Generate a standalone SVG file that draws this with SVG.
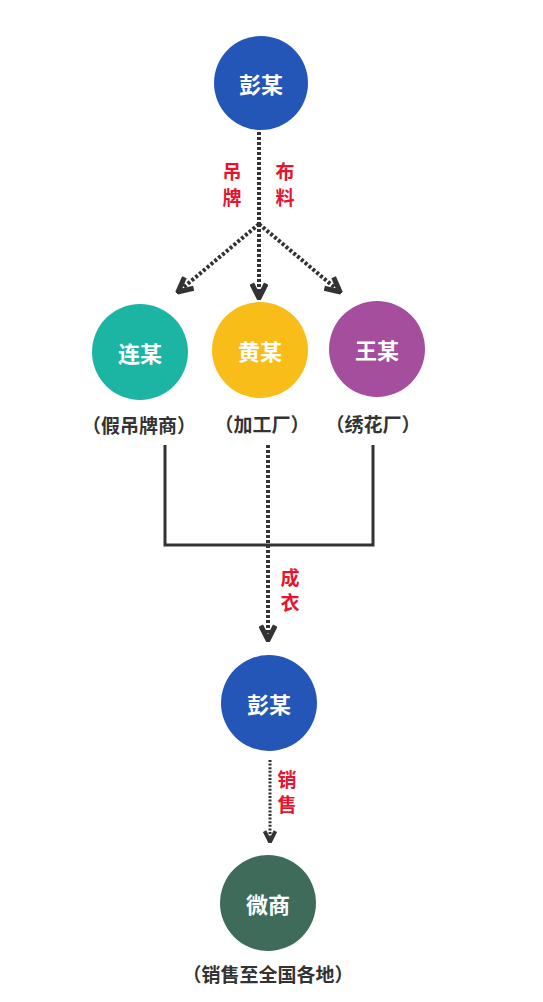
<svg xmlns="http://www.w3.org/2000/svg" width="543" height="1002" viewBox="0 0 543 1002">
<defs>
<style>
.nt{font-family:"Noto Sans CJK SC","Noto Sans",sans-serif;font-weight:bold;font-size:22px;fill:#ffffff;text-anchor:middle;dominant-baseline:central}
.sub{font-family:"Noto Sans CJK SC","Noto Sans",sans-serif;font-weight:bold;font-size:19px;fill:#333333;text-anchor:middle;dominant-baseline:central}
.lb{font-family:"Noto Sans CJK SC","Noto Sans",sans-serif;font-weight:bold;font-size:19px;fill:#e8132f;text-anchor:middle;dominant-baseline:central}
.dash{fill:none;stroke:#333333;stroke-width:4;stroke-dasharray:3 2}
.dash2{fill:none;stroke:#333333;stroke-width:3;stroke-dasharray:2 1.6}
.solid{fill:none;stroke:#333333;stroke-width:3}
</style>
<marker id="chev" viewBox="0 0 10 10" refX="9" refY="5" markerWidth="4.5" markerHeight="4.5" orient="auto" markerUnits="strokeWidth">
<path d="M1,1 L9,5 L1,9" fill="none" stroke="#333333" stroke-width="2.8"/>
</marker>
</defs>
<rect width="543" height="1002" fill="#ffffff"/>
<g id="connectors">
<path class="dash" d="M259,132 L259,224"/>
<path class="dash" d="M259,224 L178,292" marker-end="url(#chev)"/>
<path class="dash" d="M259,224 L259,298" marker-end="url(#chev)"/>
<path class="dash" d="M259,224 L340,292" marker-end="url(#chev)"/>
<path class="solid" d="M165,445 L165,545 L373,545 L373,445"/>
<path class="dash" d="M268,445 L268,640" marker-end="url(#chev)"/>
<path class="dash2" d="M270,760 L270,842" marker-end="url(#chev)"/>
<text class="lb" x="232" y="170">吊</text>
<text class="lb" x="232" y="196">牌</text>
<text class="lb" x="285" y="170">布</text>
<text class="lb" x="285" y="196">料</text>
<text class="lb" x="290" y="576">成</text>
<text class="lb" x="290" y="601">衣</text>
<text class="lb" x="287" y="778">销</text>
<text class="lb" x="287" y="803">售</text>
</g>
<g id="peng1">
<circle cx="261" cy="83" r="47" fill="#2456b8"/>
<text class="nt" x="261" y="83">彭某</text>
</g>
<g id="lian">
<circle cx="140" cy="352" r="48" fill="#1cb5a4"/>
<text class="nt" x="140" y="352">连某</text>
<text class="sub" x="139" y="424">（假吊牌商）</text>
</g>
<g id="huang">
<circle cx="260" cy="350" r="48" fill="#f9bd19"/>
<text class="nt" x="260" y="350">黄某</text>
<text class="sub" x="262" y="423">（加工厂）</text>
</g>
<g id="wang">
<circle cx="377" cy="349" r="48" fill="#a54e9e"/>
<text class="nt" x="377" y="349">王某</text>
<text class="sub" x="373" y="423">（绣花厂）</text>
</g>
<g id="peng2">
<circle cx="269" cy="703" r="48" fill="#2456b8"/>
<text class="nt" x="269" y="703">彭某</text>
</g>
<g id="weishang">
<circle cx="268" cy="903" r="48" fill="#3e6b5a"/>
<text class="nt" x="268" y="903">微商</text>
<text class="sub" x="268" y="973">（销售至全国各地）</text>
</g>
</svg>
